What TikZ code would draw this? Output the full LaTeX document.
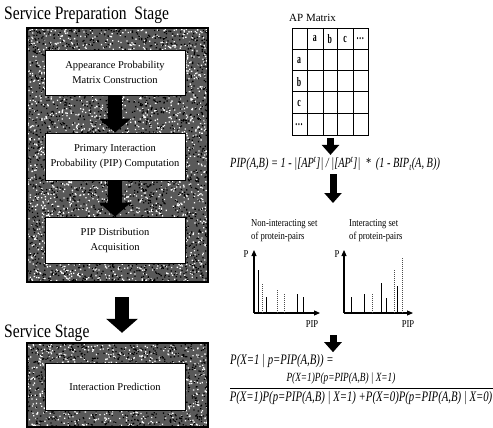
\documentclass[tikz,border=0pt]{standalone}
\usepackage{fontspec}
\setmainfont{Liberation Serif}
\newfontfamily\narrowfont[FakeStretch=0.82]{Liberation Serif}
\newfontfamily\eqfont[FakeStretch=0.74]{Liberation Serif}
\newfontfamily\cellfont[FakeStretch=0.6]{Liberation Serif}
\usetikzlibrary{arrows.meta,positioning,calc}

\tikzset{
  stagetitle/.style={anchor=base west, inner sep=0pt, font=\fontsize{19}{22}\narrowfont},
  stageframe/.style={draw=black, line width=2pt},
  stepbox/.style={draw=black, fill=white, line width=0.8pt, minimum width=140pt,
    minimum height=46pt, align=center, font=\fontsize{10.5}{15}\selectfont},
  blockarrow/.style={line width=14pt, -{Triangle[width=31pt,length=14pt]}},
  smallarrow/.style={line width=7pt, -{Triangle[width=17pt,length=10pt]}},
  cell/.style={inner sep=0pt, font=\fontsize{13}{14}\bfseries\cellfont},
  axis/.style={line width=1.1pt, -{Triangle[width=5pt,length=6pt]}},
  bar/.style={line width=1pt},
  dbar/.style={line width=1pt, densely dotted, black!70},
  charttext/.style={inner sep=0pt, font=\fontsize{10.5}{13}\narrowfont},
  eq/.style={inner sep=2pt, font=\fontsize{14.5}{16}\eqfont\itshape},
}

\begin{document}
\begin{tikzpicture}[x=1pt,y=-1pt]
\useasboundingbox (0,0) rectangle (493,428);
\pgfmathsetseed{42}

% ---- left column: the two stages
\node[stagetitle] (prepTitle) at (4,20) {Service Preparation\ \ Stage};
\node[minimum width=181pt, minimum height=254pt, inner sep=0pt] (prep) at (117.5,155) {};
\node[minimum width=181pt, minimum height=84pt, inner sep=0pt] (svc) at (117.5,385) {};

% speckled frames
\foreach \fr in {prep,svc}{
  \fill[black!65] (\fr.north west) rectangle (\fr.south east);
}
\fill[white] \foreach \i in {1,...,2300}{ ({27+180*rnd},{28+253*rnd}) rectangle ++(1.3,1.3) };
\fill[black] \foreach \i in {1,...,2500}{ ({27+180*rnd},{28+253*rnd}) rectangle ++(1.3,1.3) };
\fill[white] \foreach \i in {1,...,800}{ ({27+180*rnd},{343+84*rnd}) rectangle ++(1.3,1.3) };
\fill[black] \foreach \i in {1,...,850}{ ({27+180*rnd},{343+84*rnd}) rectangle ++(1.3,1.3) };
\draw[stageframe] (prep.north west) rectangle (prep.south east);
\draw[stageframe] (svc.north west) rectangle (svc.south east);

\node[stepbox, minimum height=45pt] (apc) at (115,72.5) {Appearance Probability\\Matrix Construction};
\node[stepbox, minimum height=47pt] (pipc) at (115,156.5) {Primary Interaction\\Probability (PIP) Computation};
\node[stepbox] (pipd) at (115,240) {PIP Distribution\\Acquisition};
\node[stepbox, minimum height=47pt] (pred) at (115,386.5) {Interaction Prediction};

\draw[blockarrow] (apc.south) -- (pipc.north);
\draw[blockarrow] (pipc.south) -- (pipd.north);
\draw[blockarrow] ([xshift=4.5pt,yshift=-15pt]prep.south) -- ([xshift=4.5pt,yshift=10pt]svc.north);

\node[stagetitle] (svcTitle) at (4,337) {Service Stage};

% ---- right column: AP matrix
\node[anchor=base west, inner sep=0pt, font=\fontsize{11}{12}\selectfont] (apTitle) at (289,22) {AP Matrix};
\node[draw, line width=1pt, minimum width=76pt, minimum height=107pt, inner sep=0pt,
  anchor=north west] (apm) at (292,28) {};
\foreach \x in {307,323,337,353}
  \draw[line width=1pt] (\x,28) -- (\x,135);
\foreach \y in {50,71,92,113}
  \draw[line width=1pt] (292,\y) -- (368,\y);
\foreach \lbl [count=\i] in {a,b,c,{\ldots}}{
  \node[cell] at ({299.5+15.2*\i},39) {\lbl};
  \node[cell] at (299,{39+21.4*\i}) {\lbl};
}

% ---- PIP formula
\node[eq, anchor=west, font=\fontsize{14}{16}\eqfont\itshape] (pipeq) at (228,164)
  {PIP(A,B) = 1 - |[AP\textsuperscript{t}]| / |[AP\textsuperscript{t}]|\ \ *\ \ (1 - BIP\textsubscript{t}(A, B))};
\draw[smallarrow] ([yshift=-2pt]apm.south) -- (apm.south |- pipeq.north);

% ---- PIP distributions
\coordinate (dist) at (333,203);
\draw[smallarrow] ([yshift=-1pt]pipeq.south -| dist) -- (dist);

\node[charttext, anchor=north west, align=left] (nonTitle) at (251,219) {Non-interacting set\\of protein-pairs};
\node[charttext, anchor=north west, align=left] (intTitle) at (349,219) {Interacting set\\of protein-pairs};

\coordinate (o1) at (254,313);
\coordinate (o2) at (344,313);
\draw[axis] (o1) -- ++(0,-63);
\draw[axis] (o1) -- ++(66,0);
\draw[axis] (o2) -- ++(0,-63);
\draw[axis] (o2) -- ++(69,0);
\node[charttext] (p1) at (246,254) {P};
\node[charttext] (p2) at (337,254) {P};
\node[charttext] (pip1) at (312,324) {PIP};
\node[charttext] (pip2) at (408,324) {PIP};

\foreach \x/\h in {258/270, 266/297, 297/294, 303/297}
  \draw[bar] (\x,313) -- (\x,\h);
\foreach \x/\h in {262/284, 277/289, 284/294}
  \draw[dbar] (\x,313) -- (\x,\h);
\foreach \x/\h in {351/297, 364/294, 381/283, 386/298, 397/286}
  \draw[bar] (\x,313) -- (\x,\h);
\foreach \x/\h in {372/294, 394/270, 402/257}
  \draw[dbar] (\x,313) -- (\x,\h);

% ---- Bayes rule
\coordinate (chartsEnd) at (333,335);
\node[eq, anchor=west] (bayes) at (228,361) {P(X=1 | p=PIP(A,B)) =};
\draw[smallarrow] (chartsEnd) -- (chartsEnd |- bayes.north);
\node[eq, font=\fontsize{12.5}{14}\eqfont\itshape] (num) at (341,379) {P(X=1)P(p=PIP(A,B) | X=1)};
\node[eq] (den) at (361,398) {P(X=1)P(p=PIP(A,B) | X=1) +P(X=0)P(p=PIP(A,B) | X=0)};
\draw[line width=0.8pt] (230,388) -- (493,388);
\end{tikzpicture}
\end{document}
